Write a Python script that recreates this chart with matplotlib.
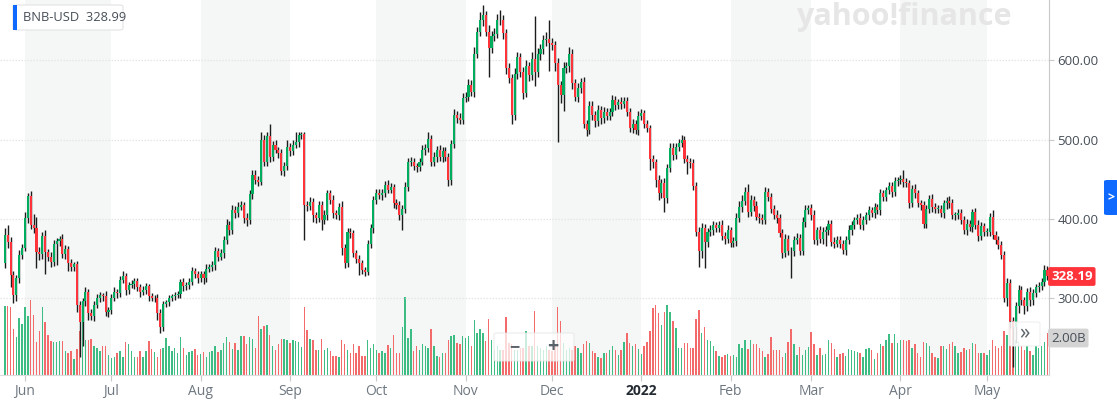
import pandas as pd
import numpy as np
import matplotlib
matplotlib.use('Agg')
import matplotlib.pyplot as plt
import matplotlib.dates as mdates
from matplotlib.patches import Rectangle, FancyBboxPatch

plt.rcParams['font.family'] = ['Open Sans', 'DejaVu Sans']

# daily BNB-USD
start_date = '2021-05-25'
first_open = 344

close = [
    380, 371, 329, 304, 325, 355, 363, 401, 429, 392,
    388, 358, 356, 378, 358, 352, 346, 368, 372, 375,
    356, 362, 344, 340, 343, 291, 270, 296, 308, 281,
    278, 292, 300, 304, 303, 283, 285, 300, 308, 307,
    323, 328, 310, 317, 318, 322, 314, 308, 310, 315,
    303, 300, 301, 281, 264, 293, 295, 300, 303, 304,
    306, 320, 315, 317, 321, 334, 331, 325, 330, 326,
    337, 339, 342, 359, 352, 357, 373, 392, 386, 411,
    407, 415, 417, 401, 399, 431, 455, 449, 447, 500,
    472, 504, 478, 493, 487, 483, 460, 466, 491, 485,
    493, 497, 506, 507, 418, 416, 421, 405, 401, 417,
    399, 405, 432, 424, 407, 405, 415, 363, 344, 384,
    382, 357, 350, 344, 336, 333, 368, 388, 424, 432,
    430, 432, 443, 437, 440, 420, 418, 405, 413, 440,
    472, 472, 466, 465, 472, 487, 489, 501, 472, 478,
    487, 478, 486, 478, 449, 494, 531, 527, 525, 552,
    554, 569, 560, 608, 636, 650, 657, 636, 615, 630,
    633, 650, 651, 634, 590, 577, 531, 583, 604, 585,
    559, 592, 581, 602, 585, 608, 614, 625, 627, 622,
    619, 596, 569, 556, 590, 592, 608, 571, 554, 565,
    573, 520, 512, 542, 531, 523, 537, 527, 535, 530,
    535, 550, 543, 547, 545, 549, 535, 514, 520, 512,
    530, 533, 520, 514, 476, 472, 449, 432, 445, 426,
    464, 489, 480, 491, 495, 500, 476, 472, 470, 441,
    384, 359, 388, 371, 384, 386, 392, 389, 392, 378,
    375, 386, 370, 372, 401, 415, 422, 434, 409, 424,
    416, 403, 401, 399, 434, 428, 413, 405, 401, 382,
    357, 375, 360, 359, 374, 376, 360, 396, 411, 414,
    405, 373, 386, 375, 384, 386, 394, 371, 369, 374,
    369, 361, 374, 386, 392, 399, 401, 392, 399, 405,
    411, 407, 415, 411, 432, 428, 436, 441, 434, 448,
    449, 450, 446, 445, 420, 438, 432, 420, 417, 394,
    413, 425, 415, 413, 413, 407, 420, 423, 420, 405,
    405, 408, 399, 386, 394, 390, 409, 392, 378, 391,
    384, 384, 403, 380, 374, 367, 355, 300, 319, 271,
    264, 290, 311, 298, 290, 308, 298, 307, 314, 315,
    321, 336, 328.19,
]

wick_up = [
    8, 12, 6, 5, 4, 6, 5, 8, 4, 6,
    14, 15, 6, 5, 8, 4, 6, 5, 4, 3,
    6, 5, 4, 6, 3, 4, 6, 5, 6, 4,
    5, 4, 5, 4, 3, 6, 4, 5, 6, 4,
    5, 6, 4, 3, 5, 4, 3, 4, 5, 4,
    3, 4, 3, 4, 5, 4, 3, 4, 3, 4,
    3, 4, 5, 3, 4, 5, 4, 3, 5, 4,
    6, 4, 5, 6, 4, 5, 6, 8, 5, 6,
    5, 6, 5, 4, 6, 5, 7, 6, 5, 9,
    6, 6, 16, 5, 6, 4, 5, 6, 8, 5,
    7, 13, 4, 3, 2, 5, 6, 5, 4, 6,
    5, 6, 5, 4, 6, 4, 5, 8, 5, 4,
    5, 4, 4, 5, 4, 3, 5, 6, 5, 6,
    6, 6, 5, 6, 5, 4, 5, 4, 5, 6,
    5, 6, 5, 4, 5, 6, 5, 8, 5, 6,
    5, 6, 5, 4, 5, 6, 8, 5, 6, 7,
    6, 7, 6, 8, 6, 10, 12, 5, 8, 7,
    8, 8, 12, 6, 5, 6, 5, 7, 6, 5,
    6, 8, 6, 8, 54, 7, 6, 6, 8, 23,
    6, 5, 7, 5, 8, 6, 9, 6, 5, 6,
    5, 6, 5, 7, 6, 5, 6, 5, 6, 5,
    5, 6, 5, 4, 6, 5, 4, 5, 6, 5,
    6, 5, 4, 5, 4, 5, 4, 6, 5, 6,
    5, 7, 6, 5, 6, 6, 5, 4, 5, 6,
    5, 6, 7, 6, 5, 6, 5, 4, 5, 6,
    5, 6, 4, 5, 6, 7, 8, 6, 10, 6,
    5, 6, 4, 5, 6, 5, 4, 5, 6, 5,
    5, 6, 5, 4, 5, 6, 5, 6, 7, 4,
    5, 6, 4, 5, 6, 5, 4, 5, 6, 5,
    4, 5, 4, 6, 5, 4, 5, 6, 5, 4,
    5, 4, 5, 4, 6, 5, 4, 5, 6, 5,
    4, 5, 11, 5, 4, 5, 6, 5, 4, 5,
    4, 5, 6, 5, 4, 5, 4, 5, 6, 5,
    4, 5, 4, 5, 6, 5, 4, 5, 6, 5,
    4, 5, 4, 8, 5, 4, 5, 4, 6, 5,
    6, 5, 6, 5, 4, 5, 6, 5, 4, 5,
    5, 6, 5,
]

wick_dn = [
    6, 8, 15, 10, 8, 6, 5, 4, 6, 5,
    6, 20, 8, 6, 28, 5, 6, 5, 26, 6,
    5, 6, 10, 5, 6, 8, 44, 30, 6, 8,
    5, 6, 4, 5, 6, 5, 6, 5, 4, 6,
    5, 4, 6, 5, 4, 6, 5, 6, 4, 5,
    6, 4, 5, 8, 8, 5, 4, 5, 4, 5,
    4, 5, 6, 4, 5, 4, 5, 6, 4, 8,
    5, 4, 5, 6, 5, 4, 6, 5, 6, 5,
    6, 5, 4, 6, 8, 5, 6, 5, 6, 4,
    6, 5, 6, 5, 4, 6, 5, 6, 5, 6,
    5, 4, 6, 5, 45, 6, 5, 9, 6, 5,
    13, 5, 6, 5, 6, 5, 6, 8, 6, 5,
    6, 5, 6, 15, 6, 5, 4, 5, 6, 5,
    5, 6, 5, 4, 5, 6, 5, 6, 19, 6,
    5, 6, 5, 6, 5, 4, 6, 5, 6, 5,
    6, 5, 6, 5, 8, 6, 5, 6, 5, 6,
    5, 6, 5, 6, 5, 6, 7, 6, 36, 6,
    6, 5, 6, 7, 8, 6, 11, 6, 7, 6,
    8, 6, 7, 6, 17, 6, 8, 6, 7, 36,
    6, 10, 72, 10, 20, 6, 7, 8, 6, 7,
    6, 6, 8, 5, 6, 7, 6, 8, 6, 5,
    6, 5, 6, 5, 6, 5, 6, 5, 6, 5,
    6, 5, 6, 5, 14, 8, 9, 8, 6, 17,
    6, 5, 6, 5, 6, 5, 6, 15, 6, 5,
    6, 19, 8, 33, 6, 5, 6, 5, 6, 5,
    6, 5, 6, 5, 6, 5, 6, 5, 6, 5,
    6, 5, 6, 5, 6, 5, 6, 5, 6, 5,
    6, 5, 6, 34, 6, 5, 6, 5, 6, 5,
    6, 5, 6, 5, 6, 18, 6, 5, 6, 5,
    6, 5, 6, 5, 6, 5, 6, 5, 6, 5,
    6, 5, 6, 5, 6, 5, 6, 5, 6, 5,
    6, 5, 6, 5, 6, 5, 6, 5, 6, 5,
    6, 5, 6, 5, 6, 5, 6, 8, 6, 5,
    6, 5, 6, 5, 6, 5, 6, 5, 6, 5,
    6, 5, 6, 5, 6, 5, 6, 5, 10, 8,
    50, 20, 8, 6, 10, 6, 8, 6, 5, 6,
    5, 6, 5,
]

# volume in billions of USD
volume_b = [
    3.76, 3.76, 3.7, 2.5, 2.1, 3.1, 2.8, 3.7, 3.2, 4.1,
    3.3, 1.8, 2.4, 3.7, 2.9, 2.2, 1.85, 1.8, 1.8, 1.85,
    1.85, 1.3, 1.2, 1.3, 0.9, 1.4, 2.4, 3.4, 1.9, 1.9,
    1.95, 1.6, 1.45, 1.3, 1.57, 1.57, 1.1, 0.93, 1.0, 1.2,
    1.3, 1.0, 1.8, 1.67, 1.3, 1.0, 0.96, 1.3, 1.0, 1.3,
    1.85, 1.4, 1.24, 1.0, 1.4, 1.5, 2.0, 1.57, 1.3, 1.5,
    1.2, 2.1, 1.5, 1.1, 1.24, 1.3, 1.4, 1.1, 1.16, 1.24,
    1.0, 1.24, 1.3, 1.57,
    1.24, 1.35, 1.76, 2.1, 1.8, 1.43, 1.76, 1.39, 2.13, 2.13,
    1.67, 2.07, 1.98, 1.48, 3.2, 2.5, 2.7, 2.72, 2.17, 1.57,
    1.39, 1.67, 1.98, 1.98, 1.9, 1.76, 1.9, 1.85, 1.8, 1.54,
    3.7, 2.44, 1.98, 1.94, 1.35, 1.35, 1.98, 1.35, 1.48, 1.3,
    1.06, 1.06, 1.0, 1.94, 1.7, 1.35, 1.2, 1.67, 1.2, 1.57,
    1.06, 1.06, 1.94, 1.48, 1.72, 1.39, 1.2, 1.3, 1.2, 1.63,
    1.48, 2.2, 1.2, 1.2, 2.6, 4.28, 2.04, 2.5, 1.3,
    1.57, 1.35, 1.67, 1.57, 1.48, 2.54, 1.57, 1.06, 1.0, 1.2,
    1.2, 1.94, 2.13, 2.2, 1.76, 1.67, 2.13, 2.04, 2.13, 1.57,
    3.0, 2.3, 2.5, 2.3, 1.85, 3.06, 1.94, 1.39, 1.57, 1.39,
    1.39, 3.15, 1.76, 1.67, 1.39, 1.39, 1.48, 1.48, 2.4, 1.57,
    1.57, 3.5, 1.57, 1.48, 1.39, 1.57, 1.39, 1.3, 1.57, 3.7,
    2.96, 1.76, 1.39, 1.48, 1.39, 1.57, 1.48, 1.2, 1.67, 1.85,
    1.76, 1.3, 1.2, 1.0, 0.93, 1.2, 1.2, 1.39, 1.57, 1.39,
    1.1, 1.35, 1.8, 2.3, 1.76, 1.57, 1.67, 1.43, 1.17, 1.6,
    1.8, 2.4, 3.65, 3.83, 3.37, 2.74, 3.43, 3.8, 3.43, 2.96,
    2.56, 1.48, 1.48, 1.76, 1.76, 1.48, 1.48, 3.06, 3.56, 2.3,
    2.65, 1.9, 1.85, 1.57, 1.3, 1.06, 1.0, 1.1, 1.17, 1.06,
    1.1, 1.0, 1.67, 1.48, 1.94, 1.43, 1.9, 1.67, 1.7, 1.48,
    1.3, 0.98, 1.17, 2.1, 1.35, 1.39, 1.39, 0.98, 1.2, 1.8,
    2.5, 1.67, 1.1, 1.54, 1.1, 1.35, 1.54, 2.35, 1.7, 1.1,
    1.48, 1.1, 1.17,
    1.94, 1.76, 1.43, 1.0, 1.17, 1.2, 1.06, 1.44, 1.39, 1.3,
    1.24, 1.2, 1.0, 1.44, 1.48, 1.39, 0.87, 1.2, 1.67, 1.61,
    1.9, 2.26, 1.76, 2.26, 1.76, 1.89, 1.89, 1.85, 1.94, 1.48,
    1.67, 1.2, 1.0, 1.8, 1.76, 1.57, 1.2, 1.0, 0.93, 1.57,
    1.57, 1.44, 1.67, 1.8, 1.57, 1.2, 1.24, 1.48, 1.39, 1.43,
    1.76, 1.72, 1.2, 1.2, 1.2, 1.1, 1.39, 1.94, 1.57, 1.48,
    1.57, 2.4, 2.2, 3.06, 2.7, 1.94, 1.85, 1.57, 1.39, 1.57,
    1.3, 1.1, 1.57, 1.48, 1.57, 1.8, 2.3,
]

month_labels = ['Jun', 'Jul', 'Aug', 'Sep', 'Oct', 'Nov', 'Dec', '2022',
                'Feb', 'Mar', 'Apr', 'May']
price_ticks = [300, 400, 500, 600]

n = min(len(close), len(wick_up), len(wick_dn), len(volume_b))
close = np.array(close[:n], dtype=float)
opens = np.r_[first_open, close[:-1]]
top = np.maximum(opens, close)
bot = np.minimum(opens, close)
high = top + np.array(wick_up[:n])
low = bot - np.array(wick_dn[:n])
vol = np.array(volume_b[:n])

dates = pd.date_range(start_date, periods=n, freq='D')
x = mdates.date2num(dates)
up = close >= opens

GREEN = '#00ad5f'
RED = '#ff333a'
W, H = 1117, 405

fig = plt.figure(figsize=(W / 100, H / 100), dpi=100)
rect = [0, 30 / H, 1049 / W, 375 / H]

# volume + month bands underneath
axv = fig.add_axes(rect, zorder=0)
ax = fig.add_axes(rect, zorder=1)
ax.patch.set_visible(False)

xmin = x[0] - 4.8 / 2.88
xmax = x[0] + (1049 - 4.8) / 2.88
month_starts = pd.date_range('2021-06-01', '2022-06-01', freq='MS')
ms = mdates.date2num(month_starts)
for i in range(0, len(ms) - 1, 2):
    axv.axvspan(ms[i], ms[i + 1], color='#f5f6f6', lw=0, zorder=0)

axv.bar(x, vol, width=0.5, color=np.where(up, '#3dbd84', '#f36a6a'), zorder=2)
axv.set_ylim(0, 20.5)
axv.set_xlim(xmin, xmax)
axv.axis('off')

# candles
for p in price_ticks:
    ax.axhline(p, color='#e6e6e6', lw=0.9, ls=(0, (1.2, 1.2)), zorder=0)
ax.vlines(x, low, high, color='#1c1c1c', lw=1, zorder=2)
ax.bar(x, np.maximum(top - bot, 0.9), bottom=bot, width=0.72,
       color=np.where(up, GREEN, RED), zorder=3, linewidth=0)

ax.set_xlim(xmin, xmax)
ax.set_ylim(203.4, 675.7)

for s in ['top', 'left']:
    ax.spines[s].set_visible(False)
ax.spines['right'].set_color('#c8c8c8')
ax.spines['bottom'].set_color('#dcdcdc')

ax.yaxis.tick_right()
ax.set_yticks(price_ticks)
ax.set_yticklabels(['%.2f' % p for p in price_ticks])
ax.tick_params(axis='y', direction='out', length=3.5, width=0.8, color='#c8c8c8',
               pad=2.5, labelsize=9.5, labelcolor='#464e56')

ax.set_xticks(ms[:12])
ax.set_xticklabels(month_labels)
ax.tick_params(axis='x', direction='out', length=4, width=0.8, color='#c8c8c8',
               pad=2.5, labelsize=10, labelcolor='#6e7780')
lbl = ax.get_xticklabels()[7]
lbl.set_fontweight('bold')
lbl.set_color('#232a31')


def fx(px):
    return px / W


def fy(py):
    return 1 - py / H


# legend chip top-left
fig.patches.append(FancyBboxPatch((fx(13), fy(30)), fx(110), 25 / H,
                                  boxstyle='round,pad=0,rounding_size=0.004',
                                  transform=fig.transFigure, facecolor='white',
                                  edgecolor='#e3e3e3', lw=0.8, zorder=5))
fig.patches.append(Rectangle((fx(13), fy(30)), fx(4), 25 / H, transform=fig.transFigure,
                             facecolor='#0f69ff', edgecolor='none', zorder=6))
fig.text(fx(23), fy(17.5), 'BNB-USD  328.99', fontsize=9.3, color='#464e56',
         va='center', ha='left', zorder=7)

# watermark
fig.text(fx(796), fy(17), 'yahoo!finance', fontsize=22, fontweight='bold',
         color='#e6e6e6', va='center', ha='left', zorder=1)

# right side price tags
fig.text(fx(1051), fy(276.5), '328.19', fontsize=9.5, fontweight='bold', color='white',
         va='center', ha='left', zorder=7,
         bbox=dict(boxstyle='round,pad=0.22,rounding_size=0.15', fc='#ff333a', ec='none'))
fig.text(fx(1051), fy(338), '2.00B', fontsize=9.5, color='#464e56',
         va='center', ha='left', zorder=7,
         bbox=dict(boxstyle='round,pad=0.22,rounding_size=0.15', fc='#d4d4d4', ec='none'))

# blue side tab
fig.patches.append(FancyBboxPatch((fx(1104), fy(215)), fx(15), 35 / H,
                                  boxstyle='round,pad=0,rounding_size=0.003',
                                  transform=fig.transFigure, facecolor='#0f69ff',
                                  edgecolor='none', zorder=6))
fig.text(fx(1111), fy(198), '>', fontsize=9, color='white', fontweight='bold',
         va='center', ha='center', zorder=7)

# zoom controls
fig.patches.append(FancyBboxPatch((fx(494), fy(361)), fx(80), 28 / H,
                                  boxstyle='round,pad=0,rounding_size=0.003',
                                  transform=fig.transFigure, facecolor='white', alpha=0.75,
                                  edgecolor='#e6e6e6', lw=0.8, zorder=6))
fig.text(fx(514), fy(347), '\u2212', fontsize=13, color='#5b636a', fontweight='bold',
         va='center', ha='center', zorder=7)
fig.text(fx(553), fy(347), '+', fontsize=14, color='#5b636a', fontweight='bold',
         va='center', ha='center', zorder=7)

# scroll-to-latest button
fig.patches.append(FancyBboxPatch((fx(1009), fy(346)), fx(31), 24 / H,
                                  boxstyle='round,pad=0,rounding_size=0.003',
                                  transform=fig.transFigure, facecolor='white', alpha=0.85,
                                  edgecolor='#ececec', lw=0.8, zorder=6))
fig.text(fx(1024.5), fy(334), '\u00bb', fontsize=15, color='#5b636a',
         va='center', ha='center', zorder=7)

fig.savefig('out.png', dpi=100, facecolor='white')
